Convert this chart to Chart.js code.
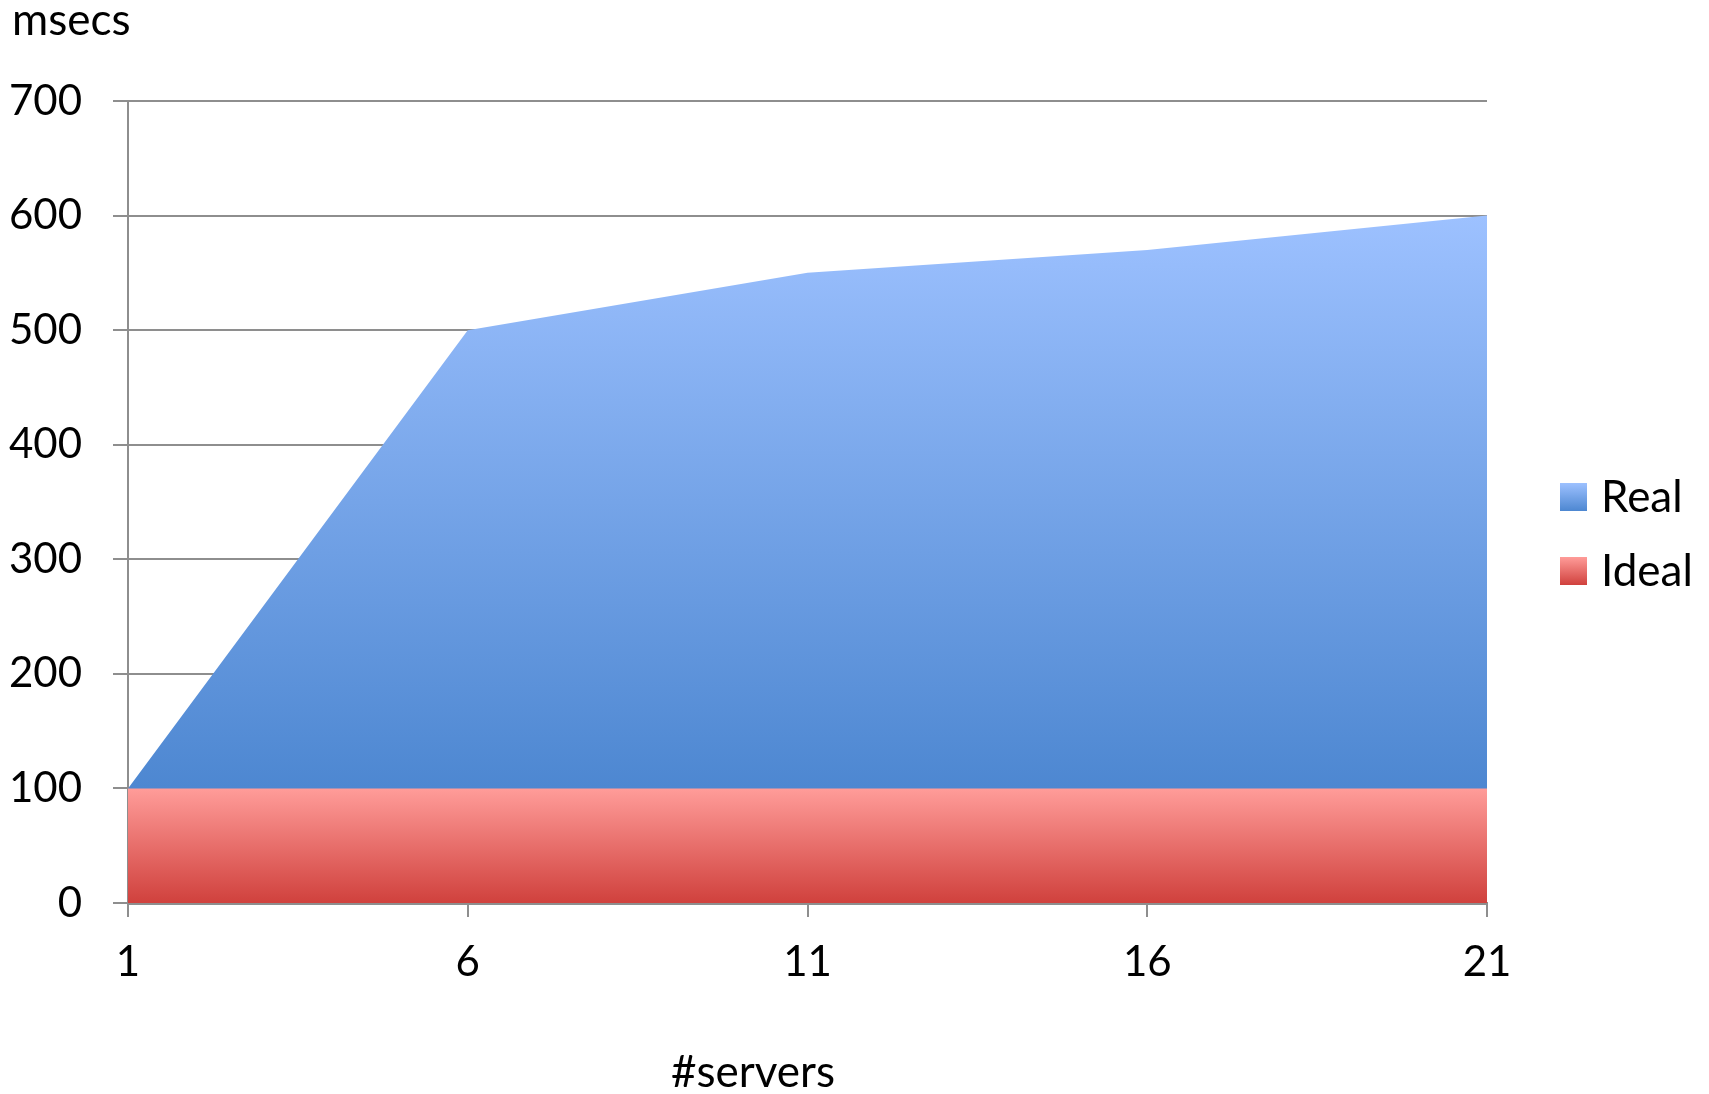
<!DOCTYPE html>
<html>
<head>
<meta charset="utf-8">
<script src="https://cdn.jsdelivr.net/npm/chart.js@4"></script>
<style>
  html, body { margin: 0; padding: 0; background: #fff; }
  #wrap { width: 1709px; height: 1094px; }
</style>
</head>
<body>
<div id="wrap"><canvas id="serversChart" width="1709" height="1094"></canvas></div>
<script>
// servidores y tiempos medidos
const servers = [1, 6, 11, 16, 21];
const realMs = [100, 500, 550, 570, 600];
const idealMs = [100, 100, 100, 100, 100];
const yTicks = [0, 100, 200, 300, 400, 500, 600, 700];

const FONT = 'Lato, "Open Sans", sans-serif';
const GRID = '#8e8e8e';

// degradado vertical entre dos valores del eje y
function vGradient(chart, fromVal, toVal, c1, c2) {
    const y = chart.scales.y;
    if (!y || !chart.chartArea) return c2;
    const g = chart.ctx.createLinearGradient(0, y.getPixelForValue(fromVal), 0, y.getPixelForValue(toVal));
    g.addColorStop(0, c1);
    g.addColorStop(1, c2);
    return g;
}

const series = [
    { label: 'Real', data: realMs, top: 600, bottom: 100, c1: '#9dc1ff', c2: '#4d87d1' },
    { label: 'Ideal', data: idealMs, top: 100, bottom: 0, c1: '#ff9c99', c2: '#d0413d' },
];

// textos fijos y leyenda
const extras = {
    id: 'extras',
    afterDraw(chart) {
        const ctx = chart.ctx;
        ctx.save();
        ctx.fillStyle = '#000';
        ctx.font = '44px ' + FONT;
        ctx.textBaseline = 'alphabetic';
        ctx.textAlign = 'left';
        ctx.fillText('msecs', 12, 35);
        ctx.textAlign = 'center';
        ctx.fillText('#servers', 753, 1087);

        ctx.textAlign = 'left';
        series.forEach((s, i) => {
            const top = 483 + i * 74;
            const g = ctx.createLinearGradient(0, top, 0, top + 28);
            g.addColorStop(0, s.c1);
            g.addColorStop(1, s.c2);
            ctx.fillStyle = g;
            ctx.fillRect(1560, top, 27, 28);
            ctx.fillStyle = '#000';
            ctx.fillText(s.label, 1601, top + 29);
        });
        ctx.restore();
    }
};

new Chart(document.getElementById('serversChart'), {
    type: 'line',
    data: {
        datasets: series.map((s, i) => ({
            label: s.label,
            data: servers.map((x, k) => ({ x: x, y: s.data[k] })),
            order: series.length - i,
            fill: 'origin',
            tension: 0,
            pointRadius: 0,
            borderWidth: 0,
            backgroundColor: (c) => vGradient(c.chart, s.top, s.bottom, s.c1, s.c2),
        })),
    },
    options: {
        responsive: false,
        animation: false,
        events: [],
        layout: { padding: { left: 0, top: 101, right: 222, bottom: 0 } },
        plugins: {
            legend: { display: false },
            tooltip: { enabled: false },
        },
        scales: {
            x: {
                type: 'linear',
                min: 1,
                max: 21,
                afterBuildTicks: (scale) => { scale.ticks = servers.map(v => ({ value: v })); },
                afterFit: (scale) => { scale.height = 191; },
                grid: { drawOnChartArea: false, drawTicks: true, tickLength: 14, color: GRID, lineWidth: 2 },
                border: { color: GRID, width: 3 },
                ticks: { color: '#000', font: { family: FONT, size: 42 }, padding: 20, maxRotation: 0 },
            },
            y: {
                min: 0,
                max: 700,
                afterBuildTicks: (scale) => { scale.ticks = yTicks.map(v => ({ value: v })); },
                afterFit: (scale) => { scale.width = 128; },
                grid: { color: GRID, lineWidth: 2, tickLength: 15 },
                border: { color: GRID, width: 2 },
                ticks: { color: '#000', font: { family: FONT, size: 42 }, padding: 31 },
            },
        },
    },
    plugins: [extras],
});
</script>
</body>
</html>
